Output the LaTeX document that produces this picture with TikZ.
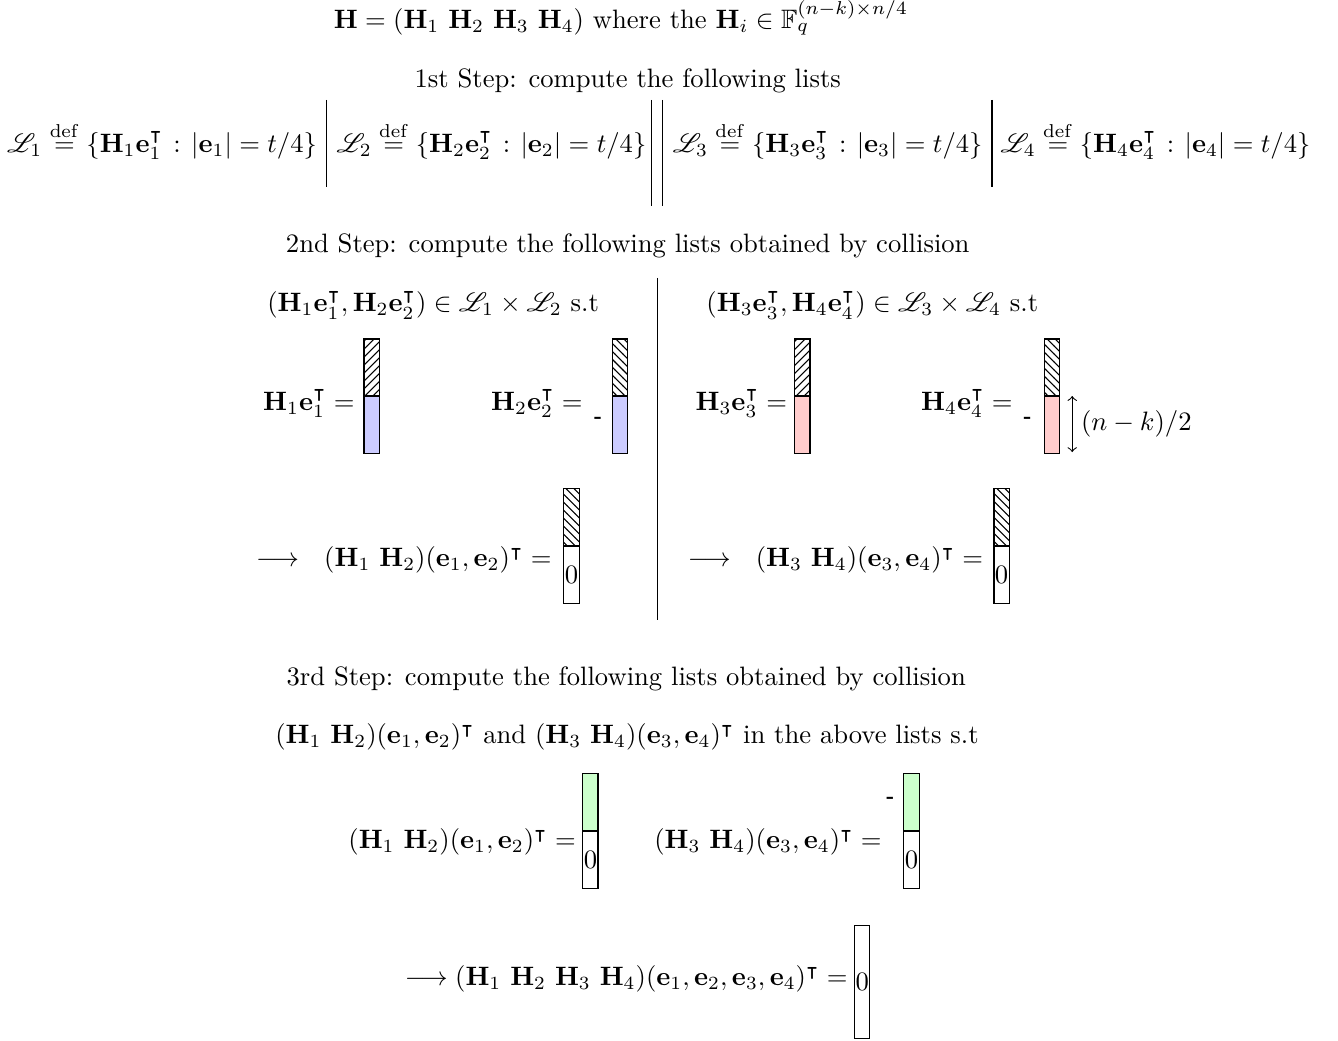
\documentclass[tikz,border=0pt]{standalone}
\usepackage{amsmath,amssymb,mathrsfs}
\usetikzlibrary{patterns,positioning,calc}
\definecolor{lowblue}{RGB}{204,204,255}
\definecolor{lowred}{RGB}{255,204,204}
\definecolor{lowgreen}{RGB}{204,255,204}
\newcommand{\Hm}[1]{\mathbf{H}_{#1}}
\newcommand{\eb}[1]{\mathbf{e}_{#1}}
\newcommand{\tp}{^{\intercal}}

\begin{document}
\begin{tikzpicture}[inner sep=0pt,
    vecpart/.style={draw, minimum width=0.2cm, minimum height=0.75cm, inner sep=0pt},
    hatchne/.style={vecpart, pattern=north east lines},
    hatchnw/.style={vecpart, pattern=north west lines},
    dashmark/.style={font=\scriptsize\bfseries, inner sep=0pt}]
  \useasboundingbox (0,0) rectangle (17.67,-13.74);
  % header
  \node[anchor=base] (head) at (8.20,-0.38) {$\mathbf{H} = (\Hm1\ \Hm2\ \Hm3\ \Hm4)$ where the $\Hm{i} \in \mathbb{F}_q^{(n-k)\times n/4}$};
  % 1st step
  \node[anchor=base] (step1) at (8.29,-1.15) {1st Step: compute the following lists};
  \foreach \i/\x in {1/2.14, 2/6.49, 3/10.93, 4/15.26}
    \node[anchor=base] (list\i) at (\x,-2.01) {$\mathscr{L}_\i \overset{\mathrm{def}}{=} \{\Hm\i\eb\i\tp \mkern2mu:\mkern2mu |\eb\i| = t/4\}$};
  \draw (4.31,-1.32) -- (4.31,-2.47) (13.10,-1.32) -- (13.10,-2.47);
  \draw (8.60,-1.32) -- (8.60,-2.72) (8.75,-1.32) -- (8.75,-2.72);
  % 2nd step
  \node[anchor=base] (step2) at (8.29,-3.33) {2nd Step: compute the following lists obtained by collision};
  \draw (8.68,-3.67) -- (8.68,-8.19);
  \node[anchor=base] (pairL) at (5.72,-4.12) {$(\Hm1\eb1\tp, \Hm2\eb2\tp) \in \mathscr{L}_1 \times \mathscr{L}_2$ s.t};
  \node[anchor=base] (pairR) at (11.52,-4.12) {$(\Hm3\eb3\tp, \Hm4\eb4\tp) \in \mathscr{L}_3 \times \mathscr{L}_4$ s.t};
  \foreach \i/\lx/\cx/\up/\lo in {1/4.69/4.80/hatchne/lowblue, 2/7.70/8.08/hatchnw/lowblue, 3/10.40/10.49/hatchne/lowred, 4/13.38/13.79/hatchnw/lowred}
    {\node[anchor=base east] (lhs\i) at (\lx,-5.42) {$\Hm\i\eb\i\tp =$};
     \node[\up, anchor=north west] (up\i) at (\cx,-4.47) {};
     \node[vecpart, fill=\lo, anchor=north] (lo\i) at (up\i.south) {};}
  \node[dashmark] (dash2) at (7.90,-5.54) {-};
  \node[dashmark] (dash4) at (13.57,-5.54) {-};
  \coordinate (dtop) at (14.16,-5.23);
  \coordinate (dbot) at (14.16,-5.97);
  \draw[<->] (dtop) -- (dbot);
  \node[anchor=base west] (dimlab) at (14.27,-5.68) {$(n-k)/2$};
  % collisions of step 2
  \node[anchor=base east] (lhs5) at (7.29,-7.48) {$\longrightarrow\ \ (\Hm1\ \Hm2)(\eb1,\eb2)\tp =$};
  \node[anchor=base east] (lhs6) at (12.99,-7.48) {$\longrightarrow\ \ (\Hm3\ \Hm4)(\eb3,\eb4)\tp =$};
  \foreach \i/\cx in {5/7.44, 6/13.12}
    {\node[hatchnw, anchor=north west] (up\i) at (\cx,-6.45) {};
     \node[vecpart, anchor=north] (lo\i) at (up\i.south) {$0$};}
  % 3rd step
  \node[anchor=base] (step3) at (8.27,-9.05) {3rd Step: compute the following lists obtained by collision};
  \node[anchor=base] (cond) at (8.28,-9.82) {$(\Hm1\ \Hm2)(\eb1,\eb2)\tp$ and $(\Hm3\ \Hm4)(\eb3,\eb4)\tp$ in the above lists s.t};
  \node[anchor=base east] (lhs7) at (7.61,-11.20) {$(\Hm1\ \Hm2)(\eb1,\eb2)\tp =$};
  \node[anchor=base east] (lhs8) at (11.65,-11.20) {$(\Hm3\ \Hm4)(\eb3,\eb4)\tp =$};
  \foreach \i/\cx in {7/7.69, 8/11.93}
    {\node[vecpart, fill=lowgreen, anchor=north west] (up\i) at (\cx,-10.21) {};
     \node[vecpart, anchor=north] (lo\i) at (up\i.south) {$0$};}
  \node[dashmark] (dash8) at (11.76,-10.57) {-};
  \node[anchor=base east] (total) at (11.20,-13.01) {$\longrightarrow (\Hm1\ \Hm2\ \Hm3\ \Hm4)(\eb1,\eb2,\eb3,\eb4)\tp =$};
  \node[vecpart, minimum height=1.5cm, anchor=north west] (full) at (11.28,-12.21) {$0$};
\end{tikzpicture}
\end{document}
